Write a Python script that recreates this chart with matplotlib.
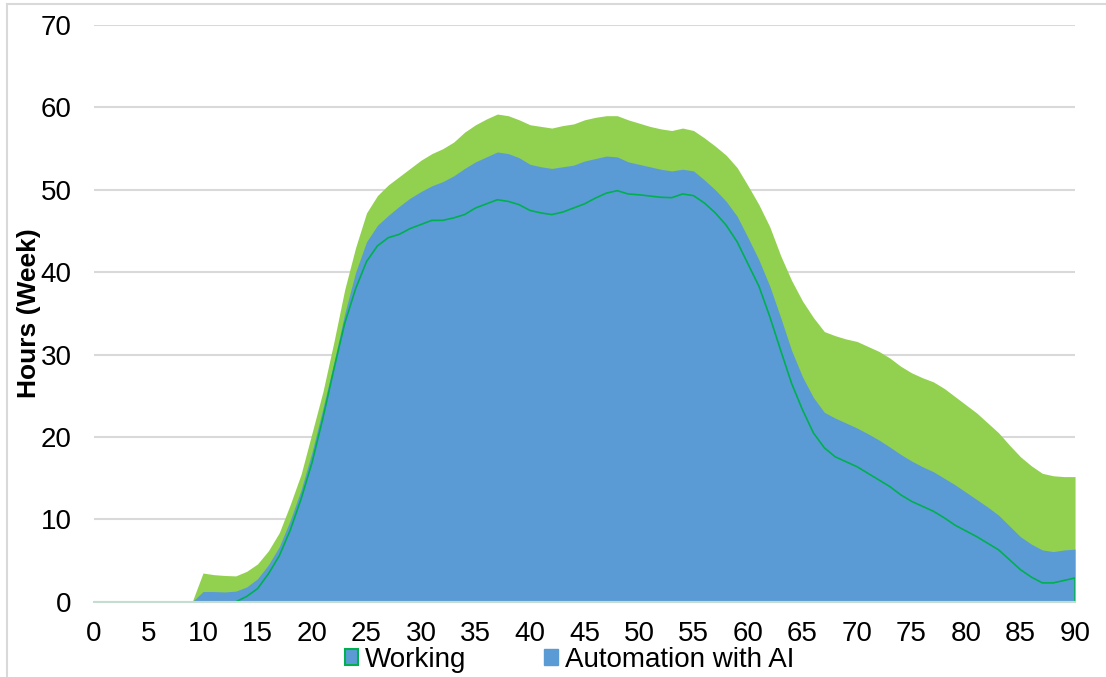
import matplotlib as mpl

mpl.use("Agg")
import matplotlib.pyplot as plt
import numpy as np
from matplotlib.lines import Line2D
from matplotlib.patches import Patch

plt.rcParams["font.family"] = ["Liberation Sans", "DejaVu Sans"]

# Age in years
ages = list(range(0, 91))

# Weekly hours spent working
working = [
    0, 0, 0, 0, 0, 0, 0, 0, 0, 0,
    0, 0, 0, 0, 0.65, 1.6, 3.4, 5.6, 8.7, 12.5,
    16.9, 22.3, 28.2, 33.8, 38.0, 41.3, 43.2, 44.2, 44.6, 45.3,
    45.8, 46.3, 46.3, 46.6, 47.0, 47.8, 48.3, 48.8, 48.6, 48.2,
    47.5, 47.2, 47.0, 47.3, 47.8, 48.3, 49.0, 49.6, 49.9, 49.5,
    49.4, 49.25, 49.1, 49.05, 49.5, 49.3, 48.4, 47.2, 45.7, 43.7,
    41.0, 38.3, 34.6, 30.5, 26.5, 23.3, 20.5, 18.7, 17.6, 17.0,
    16.4, 15.6, 14.8, 14.0, 13.0, 12.2, 11.6, 11.0, 10.2, 9.3,
    8.6, 7.9, 7.1, 6.3, 5.1, 3.9, 3.0, 2.3, 2.3, 2.6,
    2.9,
]

# Working hours plus hours freed up by automation with AI
with_automation = [
    0, 0, 0, 0, 0, 0, 0, 0, 0, 0,
    1.25, 1.25, 1.2, 1.3, 1.8, 2.8, 4.5, 6.7, 9.9, 13.6,
    18.2, 23.5, 29.0, 35.0, 40.0, 43.7, 45.7, 46.9, 48.0, 49.0,
    49.8, 50.5, 51.0, 51.7, 52.6, 53.4, 54.0, 54.6, 54.4, 53.9,
    53.1, 52.8, 52.6, 52.8, 53.0, 53.5, 53.8, 54.1, 54.0, 53.4,
    53.1, 52.8, 52.5, 52.3, 52.5, 52.3, 51.2, 50.0, 48.6, 46.8,
    44.2, 41.5, 38.3, 34.5, 30.5, 27.3, 24.8, 23.0, 22.3, 21.7,
    21.1, 20.4, 19.65, 18.8, 17.9, 17.1, 16.4, 15.8, 15.0, 14.2,
    13.3, 12.4, 11.5, 10.5, 9.2, 7.9, 7.0, 6.3, 6.1, 6.3,
    6.4,
]

# Total hours including the remaining band on top
total = [
    0, 0, 0, 0, 0, 0, 0, 0, 0, 0,
    3.5, 3.3, 3.2, 3.15, 3.7, 4.6, 6.2, 8.4, 11.8, 15.5,
    20.5, 25.5, 31.5, 37.9, 43.0, 47.2, 49.3, 50.6, 51.6, 52.6,
    53.6, 54.4, 55.0, 55.8, 57.0, 57.9, 58.6, 59.2, 59.0, 58.5,
    57.9, 57.7, 57.5, 57.8, 58.0, 58.5, 58.8, 59.0, 59.0, 58.5,
    58.1, 57.7, 57.4, 57.2, 57.5, 57.2, 56.3, 55.3, 54.2, 52.7,
    50.5, 48.2, 45.5, 42.0, 39.0, 36.5, 34.5, 32.8, 32.3, 31.9,
    31.6, 31.0, 30.4, 29.6, 28.6, 27.8, 27.2, 26.7, 25.9, 24.9,
    23.9, 22.9, 21.7, 20.5, 19.0, 17.6, 16.5, 15.6, 15.3, 15.2,
    15.2,
]

x_ticks = list(range(0, 91, 5))
y_ticks = list(range(0, 71, 10))

BLUE = "#5B9BD5"
LIGHT_GREEN = "#92D050"
LINE_GREEN = "#00B050"
GRID = "#D9D9D9"

fig = plt.figure(figsize=(11.06, 6.77), dpi=100)
ax = fig.add_axes([0.085, 0.111, 0.887, 0.852])

x = np.array(ages)
ax.fill_between(x, 0, total, color=LIGHT_GREEN, linewidth=0, zorder=2)
ax.fill_between(x, 0, with_automation, color=BLUE, linewidth=0, zorder=3)

# working area: blue fill outlined in green, closed along the baseline
wx = np.concatenate([x, [x[-1], x[0]]])
wy = np.concatenate([working, [0, 0]])
ax.fill(wx, wy, facecolor=BLUE, edgecolor=LINE_GREEN, linewidth=1.2, zorder=4)

ax.set_xlim(0, 90)
ax.set_ylim(0, 70)
ax.set_xticks(x_ticks)
ax.set_yticks(y_ticks)
ax.tick_params(axis="both", length=0, labelsize=20, colors="#000000")
ax.tick_params(axis="x", pad=14)
ax.tick_params(axis="y", pad=16)
ax.yaxis.grid(True, color=GRID, linewidth=1.5)
ax.set_axisbelow(True)
for side in ("top", "right", "left"):
    ax.spines[side].set_visible(False)
ax.spines["bottom"].set_color("#C5DDD1")
ax.spines["bottom"].set_linewidth(1.5)
ax.spines["bottom"].set_zorder(5)

ax.set_ylabel("Hours (Week)", fontsize=19, fontweight="bold")
ax.yaxis.set_label_coords(-0.054, 0.5)

handles = [
    Patch(facecolor=BLUE, edgecolor=LINE_GREEN, linewidth=1.5),
    Patch(facecolor=BLUE, edgecolor=BLUE),
]
fig.legend(
    handles,
    ["Working", "Automation with AI"],
    loc="center",
    bbox_to_anchor=(0.515, 0.025),
    ncol=2,
    frameon=False,
    fontsize=20,
    handlelength=0.48,
    handleheight=0.48,
    handletextpad=0.25,
    columnspacing=2.8,
    borderaxespad=0,
)

# chart-area border
fig.add_artist(Line2D([7 / 1106, 7 / 1106], [0, 1 - 4 / 677], color=GRID, linewidth=1.5))
fig.add_artist(Line2D([7 / 1106, 1], [1 - 4 / 677, 1 - 4 / 677], color=GRID, linewidth=1.5))

fig.savefig("out.png", dpi=100)
